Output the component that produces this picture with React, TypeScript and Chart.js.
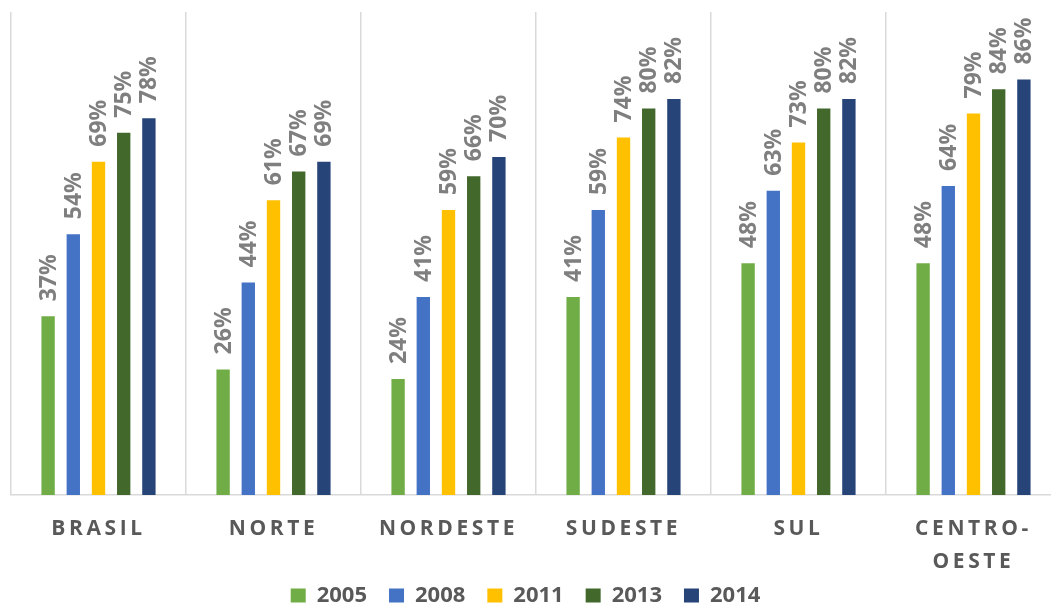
import React, { useEffect, useRef } from "react";
import { Chart, registerables } from "chart.js";

Chart.register(...registerables);

const categories = ["BRASIL", "NORTE", "NORDESTE", "SUDESTE", "SUL", "CENTRO-OESTE"];
const tickLines = [["BRASIL"], ["NORTE"], ["NORDESTE"], ["SUDESTE"], ["SUL"], ["CENTRO-", "OESTE"]];
const years = ["2005", "2008", "2011", "2013", "2014"];
const values2005 = [37, 26, 24, 41, 48, 48];
const values2008 = [54, 44, 41, 59, 63, 64];
const values2011 = [69, 61, 59, 74, 73, 79];
const values2013 = [75, 67, 66, 80, 80, 84];
const values2014 = [78, 69, 70, 82, 82, 86];
const seriesColors = ["#70AD47", "#4472C4", "#FFC000", "#43682B", "#264478"];

const FONT = '"Open Sans", "Noto Sans", sans-serif';

const customPlugin = {
  id: "customDraw",
  afterLayout(chart: any) {
    const l = chart.legend;
    if (l) {
      l.left -= 10.5;
      l.right -= 10.5;
      l.top += 12.5;
      l.bottom += 12.5;
    }
  },
  afterDatasetsDraw(chart: any) {
    const ctx = chart.ctx;
    ctx.save();
    ctx.font = `bold 23px ${FONT}`;
    ctx.fillStyle = "#7F7F7F";
    ctx.textAlign = "left";
    ctx.textBaseline = "middle";
    chart.data.datasets.forEach((ds: any, di: number) => {
      const meta = chart.getDatasetMeta(di);
      meta.data.forEach((bar: any, i: number) => {
        const v = ds.data[i];
        ctx.save();
        ctx.translate(bar.x, bar.y - 15);
        ctx.rotate(-Math.PI / 2);
        ctx.fillText(`${v}%`, 0, 1);
        ctx.restore();
      });
    });
    ctx.restore();
  },
  afterDraw(chart: any) {
    const ctx = chart.ctx;
    const xs = chart.scales.x;
    ctx.save();
    ctx.font = `bold 21px ${FONT}`;
    (ctx as any).letterSpacing = "3.6px";
    ctx.fillStyle = "#595959";
    ctx.textAlign = "center";
    ctx.textBaseline = "middle";
    tickLines.forEach((lines, i) => {
      const x = xs.getPixelForTick(i);
      lines.forEach((t, j) => {
        ctx.fillText(t, x, chart.chartArea.bottom + 34 + j * 33);
      });
    });
    ctx.restore();
  },
};

export default function App() {
  const canvasRef = useRef<HTMLCanvasElement | null>(null);

  useEffect(() => {
    if (!canvasRef.current) return;
    const allValues = [values2005, values2008, values2011, values2013, values2014];
    const chart = new Chart(canvasRef.current, {
      type: "bar",
      data: {
        labels: categories,
        datasets: years.map((y, i) => ({
          label: y,
          data: allValues[i],
          backgroundColor: seriesColors[i],
          borderWidth: 0,
          categoryPercentage: 0.72,
          barPercentage: 0.53,
        })),
      },
      options: {
        animation: false,
        responsive: true,
        maintainAspectRatio: false,
        layout: { padding: { top: 12, left: 11, right: 1, bottom: 0 } },
        plugins: {
          tooltip: { enabled: false },
          legend: {
            position: "bottom",
            labels: {
              boxWidth: 15,
              boxHeight: 14,
              padding: 22,
              color: "#595959",
              font: { family: FONT, size: 22, weight: "bold" },
            },
          },
        },
        scales: {
          x: {
            grid: { color: "#D9D9D9", lineWidth: 1.5, drawTicks: false, offset: true },
            border: { color: "#D9D9D9", width: 1.5 },
            ticks: { display: false },
            afterFit: (s: any) => {
              s.height = 55;
            },
          },
          y: { display: false, min: 0, max: 100 },
        },
      },
      plugins: [customPlugin],
    });
    return () => chart.destroy();
  }, []);

  return (
    <div
      style={{
        position: "fixed",
        left: 0,
        top: 0,
        width: 1051,
        height: 604,
        overflow: "hidden",
        background: "#fff",
      }}
    >
      <div style={{ position: "relative", width: 1062, height: 604 }}>
        <canvas ref={canvasRef} />
      </div>
    </div>
  );
}
